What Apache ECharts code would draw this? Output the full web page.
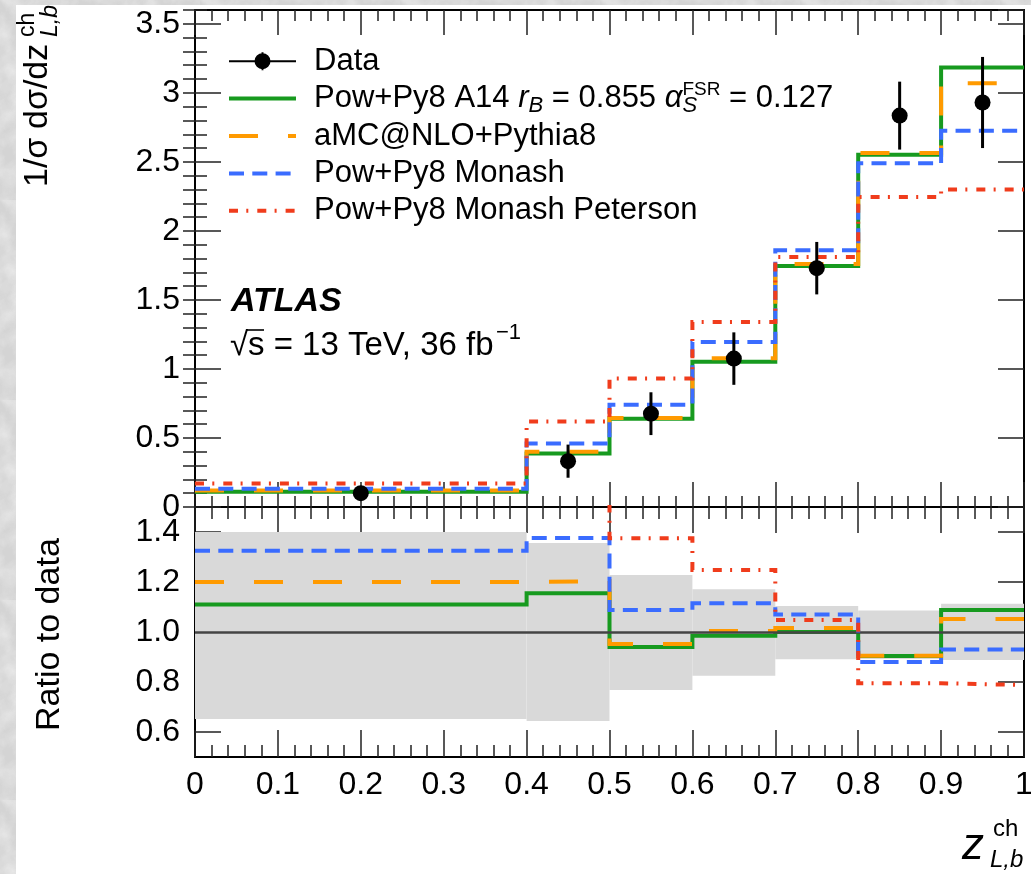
<!DOCTYPE html>
<html>
<head>
<meta charset="utf-8">
<script src="https://cdn.jsdelivr.net/npm/echarts@6/dist/echarts.min.js"></script>
<style>
  html, body { margin: 0; padding: 0; width: 1031px; height: 874px; overflow: hidden; }
  body {
    background-color: #d4d4d4;
    background-image: url("data:image/svg+xml;utf8,<svg xmlns='http://www.w3.org/2000/svg' width='200' height='200'><filter id='n'><feTurbulence type='fractalNoise' baseFrequency='0.045' numOctaves='4' seed='7'/><feColorMatrix values='0 0 0 0 0.9  0 0 0 0 0.9  0 0 0 0 0.9  0 0 0 1.1 -0.35'/></filter><rect width='200' height='200' filter='url(%23n)'/></svg>");
  }
  #paper { position: absolute; left: 16px; top: 5px; width: 1015px; height: 869px; background: #fff; }
  #chart { position: absolute; left: 0; top: 0; width: 1031px; height: 874px; }
</style>
</head>
<body>
<div id="paper"></div>
<div id="chart"></div>
<script>
// Bin edges in z_{L,b}^{ch}
const binEdges = [0, 0.4, 0.5, 0.6, 0.7, 0.8, 0.9, 1.0];

// Measured distribution (bin centres, values, total uncertainty)
const dataCenters = [0.2, 0.45, 0.55, 0.65, 0.75, 0.85, 0.95];
const dataValues  = [0.100, 0.332, 0.676, 1.075, 1.730, 2.835, 2.930];
const dataErrors  = [0.035, 0.120, 0.155, 0.190, 0.190, 0.246, 0.330];

// Predictions, one value per bin
const powA14      = [0.111, 0.387, 0.640, 1.053, 1.746, 2.552, 3.184];
const amcPy8      = [0.120, 0.400, 0.645, 1.078, 1.760, 2.565, 3.070];
const powMonash   = [0.133, 0.460, 0.741, 1.195, 1.860, 2.490, 2.725];
const powPeterson = [0.170, 0.620, 0.930, 1.340, 1.810, 2.246, 2.300];

// Prediction / data ratios per bin
const ratioA14      = [1.110, 1.155, 0.940, 0.985, 1.000, 0.904, 1.088];
const ratioAmc      = [1.200, 1.204, 0.952, 1.004, 1.016, 0.905, 1.052];
const ratioMonash   = [1.325, 1.376, 1.088, 1.115, 1.070, 0.880, 0.930];
const ratioPeterson = [1.620, 1.870, 1.375, 1.248, 1.048, 0.795, 0.788];

// Relative data uncertainty band in the ratio panel
const bandLow  = [0.652, 0.644, 0.768, 0.825, 0.891, 0.892, 0.888];
const bandHigh = [1.400, 1.356, 1.228, 1.171, 1.104, 1.086, 1.113];

// Tick values shown on the ratio axis
const ratioTicks = [0.6, 0.8, 1.0, 1.2, 1.4];

const seriesNames = ['Data', 'Pow+Py8 A14', 'aMC@NLO+Pythia8', 'Pow+Py8 Monash', 'Pow+Py8 Monash Peterson'];

const FONT = '"Liberation Sans", Arial, Helvetica, sans-serif';
const C_GREEN = '#179a1f', C_ORANGE = '#ff9a00', C_BLUE = '#3a6cff', C_RED = '#f03c1c';
const TICK = { color: '#222', width: 1.5 };

function xAxisDef(grid, position, labels, major, minor) {
  return {
    type: 'value', gridIndex: grid, position, min: 0, max: 1, interval: 0.1,
    axisLine: { show: true, onZero: false, lineStyle: { color: '#000', width: 2 } },
    axisTick: { show: true, inside: true, length: major, lineStyle: TICK },
    minorTick: { show: true, splitNumber: 5, length: minor, lineStyle: TICK },
    splitLine: { show: false }, minorSplitLine: { show: false },
    axisLabel: { show: labels, margin: 12, fontSize: 32, fontFamily: FONT, color: '#000' }
  };
}

function yAxisDef(grid, position, opts) {
  return Object.assign({
    type: 'value', gridIndex: grid, position,
    axisLine: { show: true, onZero: false, lineStyle: { color: '#000', width: 2 } },
    axisTick: { show: true, inside: true, length: 26, lineStyle: TICK },
    splitLine: { show: false },
    axisLabel: { show: false, margin: 15, fontSize: 32, fontFamily: FONT, color: '#000' }
  }, opts);
}

// Histogram drawn as a step line through the bin edges
function stepPoints(vals) {
  return binEdges.map((x, i) => [x, vals[Math.min(i, vals.length - 1)]]);
}

function stepSeries(name, vals, color, dash, xi, yi, z, extra) {
  return Object.assign({
    type: 'line', name, xAxisIndex: xi, yAxisIndex: yi, step: 'end',
    symbol: 'none', data: stepPoints(vals), z, clip: true,
    lineStyle: { color, width: 4, type: dash, cap: 'butt', join: 'miter' },
    itemStyle: { color }
  }, extra || {});
}

const DASH_ORANGE = [29, 30];
const DASH_BLUE = [15, 8.3];
const DASH_RED = [9, 8.3, 2, 9];

const topMajorY = yAxisDef(0, 'left', {
  min: 0, max: 3.6, interval: 0.5,
  axisLabel: { show: true, margin: 15, fontSize: 32, fontFamily: FONT, color: '#000', showMaxLabel: false }
});
const topMinorY = yAxisDef(0, 'left', {
  min: 0, max: 3.6, interval: 0.1, axisLine: { show: false },
  axisTick: { show: true, inside: true, length: 12, lineStyle: TICK }
});
const topMajorYR = yAxisDef(0, 'right', { min: 0, max: 3.6, interval: 0.5 });
const topMinorYR = yAxisDef(0, 'right', {
  min: 0, max: 3.6, interval: 0.1, axisLine: { show: false },
  axisTick: { show: true, inside: true, length: 12, lineStyle: TICK }
});
const ratioY = yAxisDef(1, 'left', {
  min: 0.5, max: 1.5,
  axisTick: { show: true, inside: true, length: 26, lineStyle: TICK, customValues: ratioTicks },
  axisLabel: { show: true, margin: 15, fontSize: 32, fontFamily: FONT, color: '#000',
               customValues: ratioTicks, formatter: v => Number(v).toFixed(1) }
});
const ratioYR = yAxisDef(1, 'right', {
  min: 0.5, max: 1.5,
  axisTick: { show: true, inside: true, length: 26, lineStyle: TICK, customValues: ratioTicks },
  axisLabel: { show: false, customValues: ratioTicks }
});

const dataIcon = 'path://M0,9 L67,9 L67,11 L0,11 Z M32.5,1 L34.5,1 L34.5,19 L32.5,19 Z M25.5,10 A8,8 0 1,1 41.5,10 A8,8 0 1,1 25.5,10 Z';

const option = {
  animation: false,
  backgroundColor: 'transparent',
  textStyle: { fontFamily: FONT },
  grid: [
    { left: 195, top: 10, width: 829, height: 497, outerBoundsMode: 'none', containLabel: false },
    { left: 195, top: 507, width: 829, height: 250, outerBoundsMode: 'none', containLabel: false }
  ],
  xAxis: [
    xAxisDef(0, 'bottom', false, 25, 11),
    xAxisDef(0, 'top', false, 25, 11),
    xAxisDef(1, 'bottom', true, 27, 12),
    xAxisDef(1, 'top', false, 26, 12)
  ],
  yAxis: [topMajorY, topMinorY, topMajorYR, topMinorYR, ratioY, ratioYR],
  legend: {
    orient: 'vertical', left: 227, top: 42.5, padding: 0, itemWidth: 67, itemHeight: 20, itemGap: 0,
    selectedMode: false,
    textStyle: {
      fontFamily: FONT, fontSize: 31, color: '#000', lineHeight: 37.4, padding: [0, 0, 0, 13],
      rich: {
        it:   { fontFamily: FONT, fontSize: 31, fontStyle: 'italic', color: '#000', lineHeight: 37.4 },
        t:    { fontFamily: FONT, fontSize: 31, color: '#000', lineHeight: 37.4 },
        sub:  { fontFamily: FONT, fontSize: 22, fontStyle: 'italic', color: '#000', lineHeight: 21, verticalAlign: 'bottom' },
        subz: { fontFamily: FONT, fontSize: 22, fontStyle: 'italic', color: '#000', lineHeight: 21, verticalAlign: 'bottom', width: 0 },
        sup:  { fontFamily: FONT, fontSize: 19, color: '#000', lineHeight: 20, verticalAlign: 'top' }
      }
    },
    lineStyle: { width: 'inherit', type: 'inherit', cap: 'butt' },
    data: [
      { name: seriesNames[0], icon: dataIcon, itemStyle: { color: '#000', opacity: 1 } },
      { name: seriesNames[1], itemStyle: { opacity: 0 } },
      { name: seriesNames[2], itemStyle: { opacity: 0 } },
      { name: seriesNames[3], itemStyle: { opacity: 0 } },
      { name: seriesNames[4], itemStyle: { opacity: 0 } }
    ],
    formatter: function (name) {
      if (name === seriesNames[1]) {
        return '{t|Pow+Py8 A14 }{it|r}{sub|B}{t| = 0.855 }{it|α}{subz|S}{sup|FSR}{t| = 0.127}';
      }
      return name;
    }
  },
  graphic: [
    // y title, upper panel
    { type: 'group', x: 38, y: 187, rotation: Math.PI / 2, silent: true, children: [
      { type: 'text', x: 0, y: 0, style: { text: '1/σ', font: '34px ' + FONT, fill: '#000', textAlign: 'left', textVerticalAlign: 'middle' } },
      { type: 'text', x: 58, y: 0, style: { text: 'dσ/dz', font: '34px ' + FONT, fill: '#000', textAlign: 'left', textVerticalAlign: 'middle' } },
      { type: 'text', x: 150, y: -10, style: { text: 'ch', font: '23px ' + FONT, fill: '#000', textAlign: 'left', textVerticalAlign: 'middle' } },
      { type: 'text', x: 150, y: 13, style: { text: 'L,b', font: 'italic 23px ' + FONT, fill: '#000', textAlign: 'left', textVerticalAlign: 'middle' } }
    ] },
    // y title, ratio panel
    { type: 'text', x: 50, y: 731, rotation: Math.PI / 2, silent: true,
      style: { text: 'Ratio to data', font: '34px ' + FONT, fill: '#000', textAlign: 'left', textVerticalAlign: 'middle' } },
    // x title
    { type: 'text', x: 962, y: 847, silent: true, style: { text: 'z', font: 'italic 44px ' + FONT, fill: '#000', textAlign: 'left', textVerticalAlign: 'middle' } },
    { type: 'text', x: 993, y: 829, silent: true, style: { text: 'ch', font: '24px ' + FONT, fill: '#000', textAlign: 'left', textVerticalAlign: 'middle' } },
    { type: 'text', x: 990, y: 860, silent: true, style: { text: 'L,b', font: 'italic 24px ' + FONT, fill: '#000', textAlign: 'left', textVerticalAlign: 'middle' } },
    // experiment label
    { type: 'text', x: 231, y: 302, silent: true, style: { text: 'ATLAS', font: 'italic bold 34px ' + FONT, fill: '#000', textAlign: 'left', textVerticalAlign: 'middle' } },
    { type: 'text', x: 230, y: 346, silent: true, style: { text: '√', font: '33px ' + FONT, fill: '#000', textAlign: 'left', textVerticalAlign: 'middle' } },
    { type: 'line', silent: true, shape: { x1: 247, y1: 330, x2: 264, y2: 330 }, style: { stroke: '#000', lineWidth: 1.6 } },
    { type: 'text', x: 248, y: 346, silent: true, style: { text: 's = 13 TeV, 36 fb', font: '33px ' + FONT, fill: '#000', textAlign: 'left', textVerticalAlign: 'middle' } },
    { type: 'text', x: 496, y: 333, silent: true, style: { text: '−1', font: '22px ' + FONT, fill: '#000', textAlign: 'left', textVerticalAlign: 'middle' } }
  ],
  series: [
    // upper panel histograms
    stepSeries(seriesNames[1], powA14, C_GREEN, 'solid', 0, 0, 3),
    stepSeries(seriesNames[2], amcPy8, C_ORANGE, DASH_ORANGE, 0, 0, 4),
    stepSeries(seriesNames[3], powMonash, C_BLUE, DASH_BLUE, 0, 0, 5),
    stepSeries(seriesNames[4], powPeterson, C_RED, DASH_RED, 0, 0, 6),
    // measured points with error bars
    {
      type: 'custom', name: seriesNames[0], xAxisIndex: 0, yAxisIndex: 0, z: 10,
      itemStyle: { color: '#000' },
      data: dataCenters.map((x, i) => [x, dataValues[i], dataErrors[i]]),
      encode: { x: 0, y: 1 },
      renderItem: function (params, api) {
        const x = api.value(0), y = api.value(1), e = api.value(2);
        const c = api.coord([x, y]);
        const hi = api.coord([x, y + e]);
        const lo = api.coord([x, y - e]);
        return { type: 'group', children: [
          { type: 'line', shape: { x1: c[0], y1: hi[1], x2: c[0], y2: lo[1] }, style: { stroke: '#000', lineWidth: 3 } },
          { type: 'circle', shape: { cx: c[0], cy: c[1], r: 8 }, style: { fill: '#000' } }
        ] };
      }
    },
    // uncertainty band in the ratio panel
    {
      type: 'custom', name: 'band', xAxisIndex: 2, yAxisIndex: 4, z: 1, silent: true,
      data: bandLow.map((lo, i) => [binEdges[i], binEdges[i + 1], lo, bandHigh[i]]),
      encode: { x: [0, 1], y: [2, 3] },
      renderItem: function (params, api) {
        const a = api.coord([api.value(0), api.value(3)]);
        const b = api.coord([api.value(1), api.value(2)]);
        return { type: 'rect', shape: { x: a[0], y: a[1], width: b[0] - a[0], height: b[1] - a[1] },
                 style: { fill: '#d9d9d9' } };
      }
    },
    // ratio panel histograms
    stepSeries(seriesNames[1], ratioA14, C_GREEN, 'solid', 2, 4, 3, {
      markLine: { silent: true, symbol: ['none', 'none'], label: { show: false },
                  lineStyle: { color: '#444', width: 2.5, type: 'solid' }, data: [{ yAxis: 1 }] }
    }),
    stepSeries(seriesNames[2], ratioAmc, C_ORANGE, DASH_ORANGE, 2, 4, 4),
    stepSeries(seriesNames[3], ratioMonash, C_BLUE, DASH_BLUE, 2, 4, 5),
    stepSeries(seriesNames[4], ratioPeterson, C_RED, DASH_RED, 2, 4, 6)
  ]
};

const chart = echarts.init(document.getElementById('chart'));
chart.setOption(option);
</script>
</body>
</html>
